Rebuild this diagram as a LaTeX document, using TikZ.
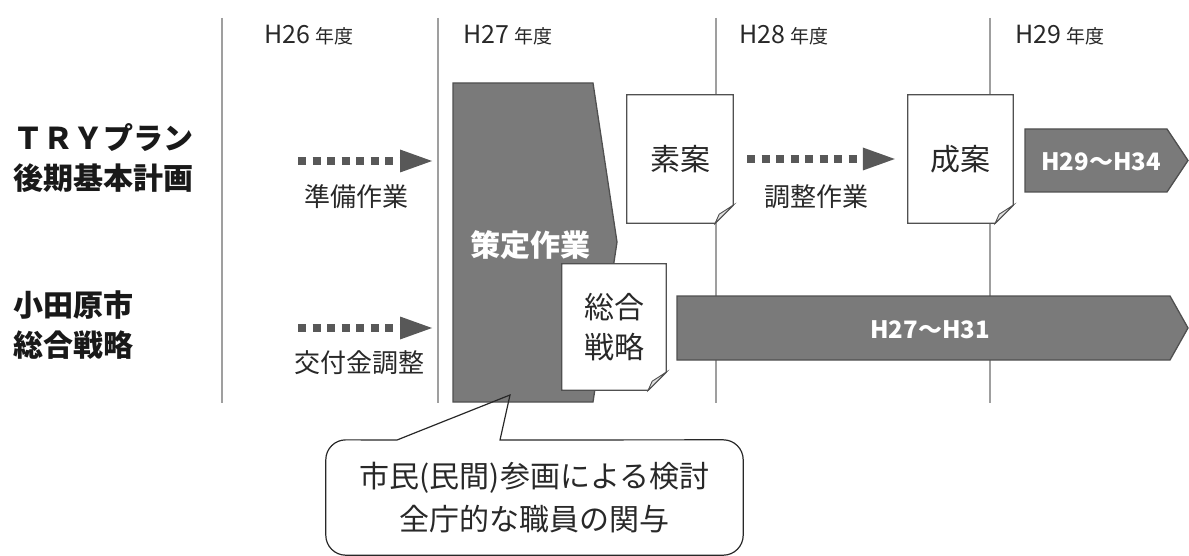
\documentclass[tikz,border=0pt]{standalone}
\usepackage{fontspec}
\setmainfont{Noto Sans CJK JP}
\usetikzlibrary{arrows.meta,positioning,calc}
\usepackage{xcolor}
\definecolor{bandgray}{RGB}{122,122,122}
\definecolor{edgegray}{RGB}{80,80,80}
\definecolor{dotgray}{RGB}{88,88,88}
\definecolor{inkgray}{RGB}{40,40,40}
\tikzset{
	yearline/.style={draw=gray!75, line width=1.2pt},
	yearlabel/.style={anchor=base west, inner sep=0pt, text=inkgray, font=\fontsize{25}{28}\selectfont},
	rowlabel/.style={anchor=west, inner sep=0pt, align=left, text=black!90, font=\bfseries\fontsize{30}{40}\selectfont},
	tasklabel/.style={inner sep=0pt, text=inkgray, font=\fontsize{26}{30}\selectfont},
	dotarrow/.style={draw=dotgray, line width=8pt, dash pattern=on 8pt off 6.5pt, -{Triangle[length=32pt,width=23pt,line width=0pt]}},
	paper/.style={fill=white, inner sep=0pt, text=inkgray, align=center, font=\fontsize{30}{40}\selectfont},
	paperline/.style={draw=edgegray, line width=1.3pt},
	flap/.style={draw=edgegray, line width=0.9pt, fill=gray!25},
	band/.style={draw=edgegray, line width=1.3pt, fill=bandgray},
	bandtext/.style={inner sep=0pt, text=white, font=\bfseries\fontsize{24}{28}\selectfont},
}
\newcommand{\paperedge}[1]{%
	\draw[paperline] (#1.north west) -- (#1.north east) -- ([yshift=18pt]#1.south east) -- ([xshift=-18pt]#1.south east) -- (#1.south west) -- cycle;
	\draw[flap] ([yshift=18pt]#1.south east) -- ([xshift=-18pt]#1.south east) -- ([xshift=-14pt,yshift=9pt]#1.south east) -- cycle;}

\begin{document}
\begin{tikzpicture}[x=1pt,y=-1pt]
		\useasboundingbox (0,0) rectangle (1189,556);
		% year columns
		\foreach \x in {222,438,716,990}
			\draw[yearline] (\x,18) -- (\x,403);
		\node[yearlabel] (h26) at (264,44) {H26 {\fontsize{19}{20}\selectfont 年度}};
		\node[yearlabel] (h27) at (463,44) {H27 {\fontsize{19}{20}\selectfont 年度}};
		\node[yearlabel] (h28) at (739,44) {H28 {\fontsize{19}{20}\selectfont 年度}};
		\node[yearlabel] (h29) at (1015,44) {H29 {\fontsize{19}{20}\selectfont 年度}};
		% rows
		\node[rowlabel] (tryplan) at (13,158) {ＴＲＹプラン\\後期基本計画};
		\node[rowlabel] (senryaku) at (13,325) {小田原市\\総合戦略};
		% drafting block
		\coordinate (S1) at (453,83);
		\coordinate (S2) at (593,83);
		\coordinate (S3) at (617,242);
		\coordinate (S4) at (593,402);
		\coordinate (S5) at (453,402);
		\draw[band] (S1) -- (S2) -- (S3) -- (S4) -- (S5) -- cycle;
		\node[bandtext, font=\bfseries\fontsize{30}{34}\selectfont] (sakutei) at (530,245) {策定作業};
		% period bands
		\draw[band] (677,296) -- (1170,296) -- (1188,328) -- (1170,360) -- (677,360) -- cycle;
		\node[bandtext] (plan27) at (930,330) {H27～H31};
		\draw[band] (1025,129) -- (1167,129) -- (1188,160.5) -- (1167,192) -- (1025,192) -- cycle;
		\node[bandtext] (plan29) at (1101,162) {H29～H34};
		% papers
		\node[paper, minimum width=106pt, minimum height=128pt] (soan) at (680,159) {素案};
		\paperedge{soan}
		\node[paper, minimum width=105pt, minimum height=128pt] (seian) at (960.5,159) {成案};
		\paperedge{seian}
		\node[paper, minimum width=104pt, minimum height=126pt] (sogo) at (614,327) {総合\\戦略};
		\paperedge{sogo}
		% work arrows
		\coordinate (prepS) at (298,161);
		\coordinate (prepE) at (432,161);
		\coordinate (grantS) at (298,328);
		\coordinate (grantE) at (432,328);
		\draw[dotarrow] (prepS) -- (prepE);
		\draw[dotarrow] (grantS) -- (grantE);
		\draw[dotarrow, shorten <=14pt, shorten >=13pt] (soan.east) -- (seian.west);
		\node[tasklabel] (junbi) at (356,197) {準備作業};
		\node[tasklabel] (kofu) at (359,363) {交付金調整};
		\node[tasklabel] (chosei) at (816,197) {調整作業};
		% callout
		\node[inner sep=0pt, minimum width=417pt, minimum height=115pt, align=center, text=inkgray, font=\fontsize{30}{43}\selectfont] (kento) at (534.5,497.5) {市民(民間)参画による検討\\全庁的な職員の関与};
		\coordinate (tip) at (510,395);
		\draw[draw=inkgray, line width=1.2pt] (500,440) [rounded corners=20pt] -- (kento.north east) -- (kento.south east) -- (kento.south west) -- (kento.north west) [sharp corners] -- (397,440) -- (tip) -- cycle;
		\end{tikzpicture}
\end{document}
